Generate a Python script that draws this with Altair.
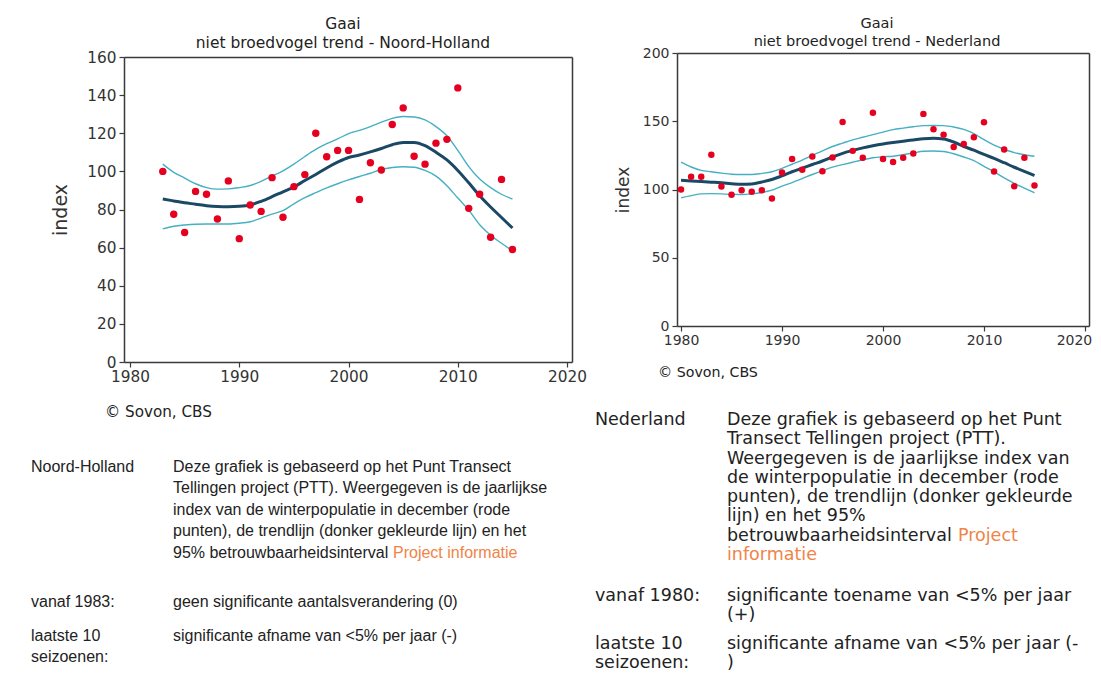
import altair as alt
import pandas as pd

# ---------------- data: Noord-Holland ----------------
nh_years = [1983, 1984, 1985, 1986, 1987, 1988, 1989, 1990, 1991, 1992,
            1993, 1994, 1995, 1996, 1997, 1998, 1999, 2000, 2001, 2002,
            2003, 2004, 2005, 2006, 2007, 2008, 2009, 2010, 2011, 2012,
            2013, 2014, 2015]
nh_index = [100, 77.5, 67.9, 89.5, 88, 75, 95, 64.7, 82.4, 79,
            96.7, 75.9, 92, 98.3, 120, 107.7, 111, 111, 85.3, 104.5,
            100.7, 124.6, 133.3, 107.9, 103.8, 114.8, 116.8, 143.8, 80.6, 88,
            65.4, 95.8, 59]
nh_trend = [85.5, 84.5, 83.5, 82.8, 82.0, 81.6, 81.5, 81.7, 82.4, 84.3,
            86.7, 89.3, 91.8, 95.2, 98.4, 101.8, 104.8, 107.3, 108.6, 110.2,
            112, 114, 115.2, 115.2, 113.5, 110, 106, 100.5, 94, 87.2,
            81.3, 75.8, 70.3]
nh_upper = [103.8, 99.5, 96.5, 93.5, 91.5, 90.7, 90.8, 91.5, 92.6, 94.8,
            97.5, 100.3, 103.8, 107.8, 111.5, 114.5, 117, 119.8, 121.5, 123.5,
            125.8, 127.8, 128.8, 128.5, 127, 123.5, 118.7, 111, 102.5, 96,
            91.5, 88, 85.5]
nh_lower = [69.8, 71.2, 71.9, 72.3, 72.4, 72.4, 72.4, 72.8, 73.6, 75.5,
            77.6, 79.4, 83, 86.2, 88.8, 91.3, 93.5, 95.5, 97.3, 99,
            101, 102, 102.4, 102.2, 100.5, 97.5, 92.5, 86, 79.7, 72,
            66.5, 62.3, 58.4]

# ---------------- data: Nederland ----------------
nl_years = [1980, 1981, 1982, 1983, 1984, 1985, 1986, 1987, 1988, 1989,
            1990, 1991, 1992, 1993, 1994, 1995, 1996, 1997, 1998, 1999,
            2000, 2001, 2002, 2003, 2004, 2005, 2006, 2007, 2008, 2009,
            2010, 2011, 2012, 2013, 2014, 2015]
nl_index = [100, 109.3, 109.3, 125.4, 102.2, 96.1, 99.5, 98.3, 99.5, 93.4,
            112.4, 122.4, 114.4, 124.1, 113.4, 123.4, 149.5, 128.3, 123.2, 156.3,
            122.4, 120.2, 123.2, 126.3, 155.4, 144.1, 140.2, 131.2, 133.4, 138.3,
            149.3, 113.2, 129.3, 102.4, 123.2, 102.9]
nl_trend = [106.8, 106.3, 105.9, 105.4, 104.9, 104.3, 103.8, 104.1, 105.5, 107.3,
            110, 113, 115.6, 118.3, 120.9, 123.8, 126.5, 128.6, 130.5, 132,
            133.3, 134.4, 135.4, 136.3, 137.2, 137.5, 137, 134.8, 131.5, 128.8,
            125.7, 122.8, 119.6, 116.3, 113.2, 110.2]
nl_upper = [120, 116.5, 114, 113, 112, 111.2, 111, 111, 111.8, 113,
            115.5, 118.5, 121.5, 125, 128.3, 131.5, 134, 136.4, 138.3, 140.2,
            142, 143.9, 145, 146, 146.8, 146.9, 146.8, 145.8, 144, 141,
            136.5, 132.5, 129.5, 127, 125.5, 124.4]
nl_lower = [93.9, 95.5, 96.8, 97, 96.8, 96.4, 96.3, 96.8, 97.8, 99.5,
            102.5, 105, 108, 111, 113.8, 116.4, 118.2, 120, 121.8, 123.3,
            124, 124.4, 125.5, 126.8, 128, 128.2, 127.8, 126.2, 123.8, 121.2,
            117, 113, 108.5, 104.5, 101, 97.6]

year_ticks = [1980, 1990, 2000, 2010, 2020]
nh_y_ticks = [0, 20, 40, 60, 80, 100, 120, 140, 160]
nl_y_ticks = [0, 50, 100, 150, 200]

# ---------------- text ----------------
species = "Gaai"
nh_subtitle = "niet broedvogel trend - Noord-Holland"
nl_subtitle = "niet broedvogel trend - Nederland"
credit = "© Sovon, CBS"
axis_title = "index"

nh_region = "Noord-Holland"
nh_desc = ["Deze grafiek is gebaseerd op het Punt Transect",
           "Tellingen project (PTT). Weergegeven is de jaarlijkse",
           "index van de winterpopulatie in december (rode",
           "punten), de trendlijn (donker gekleurde lijn) en het",
           "95% betrouwbaarheidsinterval"]
nh_link = "Project informatie"
nh_since = "vanaf 1983:"
nh_since_text = ["geen significante aantalsverandering (0)"]
last10 = ["laatste 10", "seizoenen:"]
nh_last10_text = ["significante afname van <5% per jaar (-)"]

nl_region = "Nederland"
nl_desc = ["Deze grafiek is gebaseerd op het Punt",
           "Transect Tellingen project (PTT).",
           "Weergegeven is de jaarlijkse index van",
           "de winterpopulatie in december (rode",
           "punten), de trendlijn (donker gekleurde",
           "lijn) en het 95%",
           "betrouwbaarheidsinterval"]
nl_link = ["Project", "informatie"]
nl_since = "vanaf 1980:"
nl_since_text = ["significante toename van <5% per jaar", "(+)"]
nl_last10_text = ["significante afname van <5% per jaar (-", ")"]

# ---------------- styling / layout ----------------
W, H = 1085, 664
AXC = "#3a3a3a"
RED = "#e6001f"
TREND = "#1b4965"
BAND = "#45b0c2"
TXT = "#222222"
LINK = "#ef8447"
CHART_FONT = "DejaVu Sans"


def panel(years, idx, trend, lo, hi, xdom, xr, ydom, yr, yticks,
          lab_fs, ttl_fs, ttl_pad, pt_size, last_shift=0):
    pts = pd.DataFrame({"Jaar": years, "Index": idx})
    fit = pd.DataFrame({"Jaar": years, "Trend": trend, "Onder": lo, "Boven": hi})
    xs = alt.Scale(domain=xdom, range=xr, nice=False, zero=False)
    ys = alt.Scale(domain=ydom, range=yr, nice=False, zero=False)
    common = dict(domainColor=AXC, domainWidth=1.5, tickColor=AXC, tickWidth=1.2,
                  tickSize=5, labelColor="#333333", labelFont=CHART_FONT,
                  labelFontSize=lab_fs, grid=False, labelFlush=False)
    x_extra = {}
    if last_shift:
        x_extra["labelOffset"] = {"condition": {"test": "datum.value == 2020",
                                                "value": last_shift},
                                  "value": 0}
    x_axis = alt.Axis(orient="bottom", offset=yr[0] - H, values=year_ticks,
                      format="d", title=None, labelPadding=2, **common, **x_extra)
    y_axis = alt.Axis(orient="left", offset=-xr[0], values=yticks,
                      title=axis_title, titleFont=CHART_FONT, titleFontSize=ttl_fs,
                      titleFontWeight="normal", titleColor="#333333",
                      titlePadding=ttl_pad, labelPadding=3, **common)
    top_axis = alt.Axis(orient="top", offset=-yr[1], labels=False, ticks=False,
                        title=None, grid=False, domainColor=AXC, domainWidth=1.5)
    right_axis = alt.Axis(orient="right", offset=xr[1] - W, labels=False,
                          ticks=False, title=None, grid=False, domainColor=AXC,
                          domainWidth=1.5)

    frame = alt.Chart(pts).mark_point(opacity=0).encode(
        x=alt.X("Jaar:Q", scale=xs, axis=top_axis),
        y=alt.Y("Index:Q", scale=ys, axis=right_axis))
    band_hi = alt.Chart(fit).mark_line(color=BAND, strokeWidth=1.4,
                                       interpolate="monotone").encode(
        x=alt.X("Jaar:Q", scale=xs, axis=None),
        y=alt.Y("Boven:Q", scale=ys, axis=None))
    band_lo = alt.Chart(fit).mark_line(color=BAND, strokeWidth=1.4,
                                       interpolate="monotone").encode(
        x=alt.X("Jaar:Q", scale=xs, axis=None),
        y=alt.Y("Onder:Q", scale=ys, axis=None))
    tline = alt.Chart(fit).mark_line(color=TREND, strokeWidth=3,
                                     interpolate="monotone").encode(
        x=alt.X("Jaar:Q", scale=xs, axis=None),
        y=alt.Y("Trend:Q", scale=ys, axis=None))
    dots = alt.Chart(pts).mark_circle(color=RED, size=pt_size, opacity=1).encode(
        x=alt.X("Jaar:Q", scale=xs, axis=x_axis),
        y=alt.Y("Index:Q", scale=ys, axis=y_axis))
    return alt.layer(frame, band_hi, band_lo, tline, dots).resolve_axis(
        x="independent", y="independent")


def label(text, x, y, size, font, color=TXT, align="left"):
    return alt.Chart().mark_text(text=text, font=font, fontSize=size, color=color,
                                 align=align, baseline="middle").encode(
        x=alt.value(x), y=alt.value(y))


def lines(texts, x, y0, lh, size, font, color=TXT):
    return [label(t, x, y0 + i * lh, size, font, color) for i, t in enumerate(texts)]


left = panel(nh_years, nh_index, nh_trend, nh_lower, nh_upper,
             [1979.45, 2020.45], [116, 564], [0, 160], [354, 49], nh_y_ticks,
             15.3, 19, 16, 55)
right = panel(nl_years, nl_index, nl_trend, nl_lower, nl_upper,
              [1979.6, 2020.4], [669, 1081], [0, 200], [318, 45], nl_y_ticks,
              14, 17, 10, 42, last_shift=-11)

LF = "Liberation Sans"
RF = "DejaVu Sans"
RS = 17.5
texts = [
    label(species, 335, 16, 15.5, CHART_FONT, align="center"),
    label(nh_subtitle, 335, 35, 15.5, CHART_FONT, align="center"),
    label(credit, 97, 404, 15.2, CHART_FONT),
    label(species, 869, 16, 14.5, CHART_FONT, align="center"),
    label(nl_subtitle, 869, 34, 14.5, CHART_FONT, align="center"),
    label(credit, 650, 365, 14.2, CHART_FONT),
    # Noord-Holland text block
    label(nh_region, 23, 459, 16, LF),
    *lines(nh_desc, 165, 459, 21.4, 16, LF),
    label(nh_link, 385, 459 + 4 * 21.4, 16, LF, color=LINK),
    label(nh_since, 23, 594, 16, LF),
    *lines(nh_since_text, 165, 594, 21, 16, LF),
    *lines(last10, 23, 628, 21, 16, LF),
    *lines(nh_last10_text, 165, 628, 21, 16, LF),
    # Nederland text block
    label(nl_region, 587, 412, RS, RF),
    *lines(nl_desc, 719, 412, 19.25, RS, RF),
    label(nl_link[0], 950, 412 + 6 * 19.25, RS, RF, color=LINK),
    label(nl_link[1], 719, 412 + 7 * 19.25, RS, RF, color=LINK),
    label(nl_since, 587, 588, RS, RF),
    *lines(nl_since_text, 719, 588, 19.25, RS, RF),
    *lines(last10, 587, 636, 18.5, RS, RF),
    *lines(nl_last10_text, 719, 636, 18.5, RS, RF),
]

chart = alt.layer(left, right, *texts).resolve_scale(
    x="independent", y="independent").resolve_axis(
    x="independent", y="independent").properties(
    width=W, height=H, autosize=alt.AutoSizeParams(type="none"), padding=0,
    background="white").configure_view(stroke=None)

chart.save("out.html", embed_options={"renderer": "svg", "actions": False})
